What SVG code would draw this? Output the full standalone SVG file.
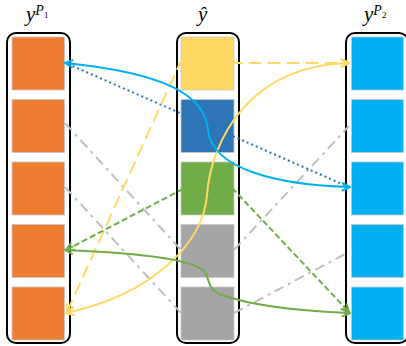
<svg xmlns="http://www.w3.org/2000/svg" width="406" height="346" viewBox="0 0 406 346">
<style>
.box{fill:#fff;stroke:#000;stroke-width:2}
.sq{stroke:#c9c9c9;stroke-width:0.8}
.or{fill:#ED7D31}.ye{fill:#FFD966}.db{fill:#2E75B6}.gr{fill:#70AD47}.gy{fill:#A5A5A5}.cy{fill:#00B0F0}
.c{fill:none;stroke-width:2}
.gray{stroke:#BFBFBF;stroke-dasharray:10 5 3 5}
.lbl{font-family:"Liberation Serif",serif;font-style:italic;fill:#000}
</style>
<defs>
<marker id="mc" viewBox="0 0 10 10" refX="9" refY="5" markerWidth="10" markerHeight="10" markerUnits="userSpaceOnUse" orient="auto-start-reverse"><path d="M1,1 L9,5 L1,9" fill="none" stroke="#00B0F0" stroke-width="2"/></marker>
<marker id="my" viewBox="0 0 10 10" refX="9" refY="5" markerWidth="10" markerHeight="10" markerUnits="userSpaceOnUse" orient="auto-start-reverse"><path d="M1,1 L9,5 L1,9" fill="none" stroke="#FFD966" stroke-width="2"/></marker>
<marker id="mg" viewBox="0 0 10 10" refX="9" refY="5" markerWidth="10" markerHeight="10" markerUnits="userSpaceOnUse" orient="auto-start-reverse"><path d="M1,1 L9,5 L1,9" fill="none" stroke="#70AD47" stroke-width="2"/></marker>
</defs>
<g id="label-yP1"><text class="lbl" x="26" y="21" font-size="21">y<tspan dy="-6" font-size="14">P</tspan><tspan dy="3" font-size="9" font-style="normal">1</tspan></text></g>
<g id="label-yhat"><text class="lbl" x="198" y="21" font-size="21">ŷ</text></g>
<g id="label-yP2"><text class="lbl" x="364" y="21" font-size="21">y<tspan dy="-6" font-size="14">P</tspan><tspan dy="3" font-size="9" font-style="normal">2</tspan></text></g>
<g id="yP1">
<rect class="box" x="7" y="33" width="63" height="310" rx="9"/>
<rect class="sq or" x="12" y="37" width="52.5" height="53"/>
<rect class="sq or" x="12" y="99.5" width="52.5" height="53"/>
<rect class="sq or" x="12" y="162" width="52.5" height="53"/>
<rect class="sq or" x="12" y="224.5" width="52.5" height="53"/>
<rect class="sq or" x="12" y="287" width="52.5" height="53"/>
</g>
<g id="yhat">
<rect class="box" x="177" y="33" width="62" height="310" rx="9"/>
<rect class="sq ye" x="181" y="37" width="53" height="53"/>
<rect class="sq db" x="181" y="99.5" width="53" height="53"/>
<rect class="sq gr" x="181" y="162" width="53" height="53"/>
<rect class="sq gy" x="181" y="224.5" width="53" height="53"/>
<rect class="sq gy" x="181" y="287" width="53" height="53"/>
</g>
<g id="yP2">
<rect class="box" x="346" y="33" width="62" height="310" rx="9"/>
<rect class="sq cy" x="351.5" y="37" width="52" height="53"/>
<rect class="sq cy" x="351.5" y="99.5" width="52" height="53"/>
<rect class="sq cy" x="351.5" y="162" width="52" height="53"/>
<rect class="sq cy" x="351.5" y="224.5" width="52" height="53"/>
<rect class="sq cy" x="351.5" y="287" width="52" height="53"/>
</g>
<g id="connectors">
<path class="c gray" d="M65 123 L181 250"/>
<path class="c gray" d="M65 187 L181 313"/>
<path class="c gray" d="M234 250 L349 126"/>
<path class="c gray" d="M234 313 L349 252"/>
<path class="c" stroke="#2E75B6" stroke-dasharray="2 3" d="M68 64 L349 187"/>
<path class="c" stroke="#FFD966" stroke-dasharray="13 6" d="M67 312 L180 63 L349 63" marker-start="url(#my)" marker-end="url(#my)"/>
<path class="c" stroke="#70AD47" stroke-dasharray="6 3" d="M66 250 L181 190 L234 190 L349 312" marker-start="url(#mg)" marker-end="url(#mg)"/>
<path class="c" stroke="#FFD966" d="M66 313 C150 295 203 245 207 195 C211 140 250 65 349 63" marker-start="url(#my)" marker-end="url(#my)"/>
<path class="c" stroke="#00B0F0" d="M65 63 C165 73 205 95 208 130 C212 170 280 185 350 187" marker-start="url(#mc)" marker-end="url(#mc)"/>
<path class="c" stroke="#70AD47" d="M65 250 C140 253 195 260 205 272 C210 280 207 290 222 295 C250 305 300 311 350 313" marker-start="url(#mg)" marker-end="url(#mg)"/>
</g>
</svg>
